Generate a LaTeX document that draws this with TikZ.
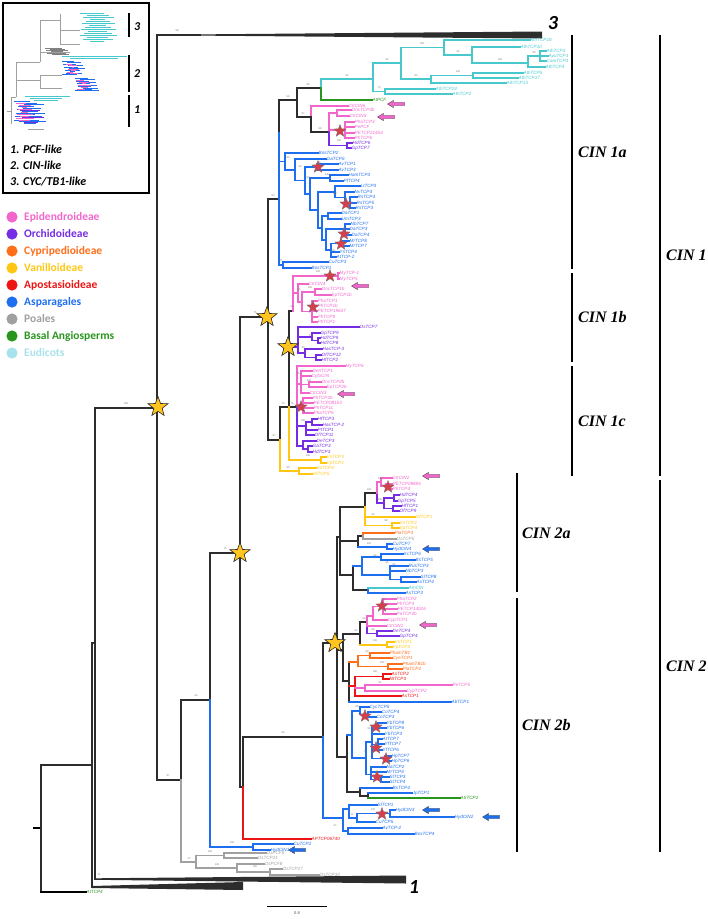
\documentclass[tikz,border=0pt]{standalone}
\usepackage{fontspec}
\setmainfont{Liberation Serif}
\setsansfont{Liberation Sans}
\newfontfamily\legendfont{Carlito}
\usetikzlibrary{shapes.geometric}

\definecolor{cline}{RGB}{45,45,45}
\definecolor{cpink}{RGB}{242,102,204}
\definecolor{cpurple}{RGB}{118,44,228}
\definecolor{corange}{RGB}{255,110,25}
\definecolor{cyellow}{RGB}{255,198,20}
\definecolor{cred}{RGB}{238,20,20}
\definecolor{cblue}{RGB}{30,110,240}
\definecolor{cgray}{RGB}{160,160,160}
\definecolor{cgreen}{RGB}{40,150,30}
\definecolor{ccyan}{RGB}{70,200,205}
\definecolor{clcyan}{RGB}{168,226,236}
\definecolor{cstar}{RGB}{255,196,30}
\definecolor{cstarred}{RGB}{214,62,76}

\newcounter{markn}
% branch helpers
\newcommand{\vb}[4][cline]{\draw[branch,#1] (#2,#3) -- (#2,#4);}
\newcommand{\hb}[4][cline]{\draw[branch,#1] (#2,#4) -- (#3,#4);}
\newcommand{\tipl}[5][cblue]{\node[tiplabel,text=#1] (#5) at (#3,#4) {#5};
  \draw[branch,#1] (#2,#4) -- (#5.west);}
\newcommand{\bsv}[3]{\stepcounter{markn}\node[bootlabel] (bs\arabic{markn}) at (#1,#2) {#3};}
\newcommand{\ystar}[2]{\stepcounter{markn}\node[ystarmark] (ys\arabic{markn}) at (#1,#2) {};}
\newcommand{\rstar}[2]{\stepcounter{markn}\node[rstarmark] (rs\arabic{markn}) at (#1,#2) {};}
\newcommand{\larrow}[3][cpink]{\filldraw[fill=#1,draw=black!75,line width=0.35pt]
  (#2,#3) ++(-8.5,0) -- ++(6,-3.6) -- ++(0,1.9) -- ++(11,0) -- ++(0,3.4)
  -- ++(-11,0) -- ++(0,1.9) -- cycle;}

\begin{document}
\begin{tikzpicture}[x=1pt,y=-1pt,
    branch/.style={line width=1.1pt, line cap=rect},
    tiplabel/.style={anchor=west, inner sep=0.5pt,
      font=\fontsize{4.6}{5}\selectfont\sffamily\itshape},
    bootlabel/.style={inner sep=0pt, text=black!55,
      font=\fontsize{2.6}{3}\selectfont\sffamily},
    ystarmark/.style={star, star points=5, star point ratio=2.4,
      minimum size=21pt, inner sep=0pt, fill=cstar, draw=black!85, line width=0.6pt},
    rstarmark/.style={star, star points=5, star point ratio=2.4,
      minimum size=13pt, inner sep=0pt, fill=cstarred, draw=black!55, line width=0.3pt},
    cinlabel/.style={anchor=west, inner sep=0pt,
      font=\fontsize{16}{16}\selectfont\rmfamily\bfseries\itshape},
    cladenum/.style={inner sep=0pt, font=\fontsize{20}{20}\selectfont\legendfont\bfseries\itshape},
    legtext/.style={anchor=west, inner sep=0pt, font=\fontsize{11.5}{12}\selectfont\legendfont\bfseries},
    insettext/.style={anchor=west, inner sep=0pt, font=\fontsize{12}{12}\selectfont\legendfont\bfseries\itshape},
    bar/.style={line width=1.4pt}
  ]
  \useasboundingbox (0,0) rectangle (708,919);

  % inset overview tree
  \draw[line width=1.2pt] (3,3) rectangle (149,193);
  \draw[cgray,line width=0.4pt] (7,111) -- (11,111) (11,97) -- (11,124) (11,97) -- (16,97)
    (16,62) -- (16,97) (16,62) -- (40,62) (40,20) -- (40,62) (40,52) -- (70,52)
    (40,75) -- (40,88) (16,80) -- (40,80) (40,75) -- (62,75) (40,88) -- (62,88)
    (40,20) -- (60,20) (60,14) -- (60,44) (60,30) -- (80,30) (60,44) -- (80,44);
  \foreach \k in {0,...,14}
    \draw[ccyan,line width=0.35pt] ({80+mod(\k*7,11)},{13+\k*2}) -- ({104+mod(\k*5,14)},{13+\k*2});
  \foreach \k in {0,...,5}
    \draw[cgray!80!black,line width=0.35pt] ({45+mod(\k*5,9)},{48+\k*1.2}) -- ({62+mod(\k*3,8)},{48+\k*1.2});
  \draw[ccyan,line width=0.35pt] (62,56) -- (127,56) (70,58) -- (118,58);
  \foreach \k in {0,...,9}
    \draw[cblue,line width=0.35pt] ({62+mod(\k*5,9)},{61+\k*1.5}) -- ({74+mod(\k*7,12)},{61+\k*1.5});
  \foreach \k in {0,...,6}
    \draw[cpink,line width=0.35pt] ({66+mod(\k*3,7)},{64+\k*1.6}) -- ({72+mod(\k*5,8)},{64+\k*1.6});
  \foreach \k in {0,...,9}
    \draw[cblue,line width=0.35pt] ({75+mod(\k*5,9)},{78+\k*1.4}) -- ({88+mod(\k*7,13)},{78+\k*1.4});
  \foreach \k in {0,...,5}
    \draw[cpink,line width=0.35pt] ({76+mod(\k*3,7)},{80+\k*1.8}) -- ({84+mod(\k*5,8)},{80+\k*1.8});
  \draw[ccyan,line width=0.35pt] (25,96) -- (70,96) (30,98) -- (62,98) (34,100) -- (58,100);
  \foreach \k in {0,...,13}
    \draw[cblue,line width=0.35pt] ({14+mod(\k*5,11)},{101+\k*1.7}) -- ({30+mod(\k*7,17)},{101+\k*1.7});
  \foreach \k in {0,...,8}
    \draw[cpink,line width=0.35pt] ({16+mod(\k*3,7)},{103+\k*2.2}) -- ({26+mod(\k*5,9)},{103+\k*2.2});
  \draw[cpurple,line width=0.35pt] (20,110) -- (40,110) (22,117) -- (44,117) (24,122) -- (38,122);
  \draw[cgray,line width=0.4pt] (28,129) -- (44,129);
  \draw[bar] (129,13) -- (129,37) (129,55) -- (129,92) (129,95) -- (129,127);
  \node[insettext] (in3) at (134,27) {3};
  \node[insettext] (in2) at (134,74) {2};
  \node[insettext] (in1) at (134,110) {1};
  \node[insettext] (pcf) at (10,149) {1. PCF-like};
  \node[insettext] (cin) at (10,165) {2. CIN-like};
  \node[insettext] (cyc) at (10,182) {3. CYC/TB1-like};

  % legend
  \foreach \name/\col/\row in {Epidendroideae/cpink/0, Orchidoideae/cpurple/1,
      Cypripedioideae/corange/2, Vanilloideae/cyellow/3, Apostasioideae/cred/4,
      Asparagales/cblue/5, Poales/cgray/6, Basal Angiosperms/cgreen/7, Eudicots/clcyan/8}{
    \fill[\col] (12,{217+\row*17}) circle (5.6);
    \node[legtext,text=\col] (leg\row) at (24,{217+\row*17}) {\name};
  }

  % backbone
  \draw[branch] (34,828) -- (41,828);
  \vb{41}{765}{892}
  \hb{41}{92}{765}
  \node[tiplabel,text=cgreen] (AtTCP4) at (86,892) {AtTCP4};
  \draw[branch] (41,892) -- (AtTCP4.west);
  \vb{92}{643}{887}
  \hb{92}{95}{643}
  \vb{95}{408}{879}
  \fill[cline] (95,878.3) -- (406,875.5) -- (406,883.5) -- (95,879.8) -- cycle;
  \fill[cline] (92,886) -- (243,882) -- (243,890) -- (92,888) -- cycle;
  \node[cladenum] (clade1) at (414,887) {1};
  \hb{95}{157}{408}
  \vb{157}{35}{780}
  \hb{157}{200}{35}
  \fill[cline] (198,34.4) -- (542,31.5) -- (542,38.5) -- (198,35.6) -- cycle;
  \node[cladenum] (clade3) at (553,23) {3};
  \hb{157}{181}{780}
  \vb{181}{700}{780}

  % Poales
  \vb[cgray]{181}{780}{862}
  \hb[cgray]{181}{196}{862}
  \vb[cgray]{196}{855.5}{868}
  \hb[cgray]{196}{224}{855.5}
  \vb[cgray]{224}{853}{858}
  \tipl[cgray]{224}{266}{853}{OsPCF6}
  \tipl[cgray]{224}{257}{858}{OsTCP21}
  \hb[cgray]{196}{237}{868}
  \vb[cgray]{237}{864}{872}
  \tipl[cgray]{237}{264}{864}{OsPCF8}
  \hb[cgray]{237}{270}{872}
  \vb[cgray]{270}{869}{875}
  \tipl[cgray]{270}{282}{869}{OsTCP27}
  \tipl[cgray]{270}{319}{875}{OsTCP10}

  % Asparagales outgroup
  \hb{181}{210}{700}
  \vb{210}{553}{700}
  \vb[cblue]{210}{700}{847}
  \hb[cblue]{210}{253}{847}
  \vb[cblue]{253}{844}{850}
  \tipl[cblue]{253}{293}{844}{CuTCP2}
  \tipl[cblue]{253}{270}{850}{HydCIN1}
  \hb{210}{240}{553}
  \vb{240}{317}{787}
  \hb{240}{243}{787}
  \vb{243}{737}{787}
  \vb[cred]{243}{787}{839}
  \tipl[cred]{243}{311}{839}{APTCP06740}
  \hb{243}{323}{737}

  % CIN 1
  \hb{240}{268}{317}
  \vb{268}{199}{440}
  \hb{268}{279}{199}
  \vb{279}{100}{133}
  \vb[cblue]{279}{133}{265}
  \hb{279}{297}{100}
  \vb{297}{88}{117}
  \hb{297}{321}{88}
  \vb[ccyan]{321}{79}{88}
  \vb[cgreen]{321}{88}{100}
  \tipl[cgreen]{321}{372}{100}{AtPCF}
  % eudicots
  \hb[ccyan]{321}{373}{79}
  \vb[ccyan]{373}{63}{91.5}
  \hb[ccyan]{373}{401}{63}
  \hb[ccyan]{373}{385}{91.5}
  \vb[ccyan]{385}{89}{94}
  \tipl[ccyan]{385}{435}{89}{AthTCP24}
  \tipl[ccyan]{385}{452}{94}{AthTCP2}
  \vb[ccyan]{401}{47.5}{79}
  \hb[ccyan]{401}{444}{47.5}
  \hb[ccyan]{401}{431}{79}
  \vb[ccyan]{431}{75.5}{83}
  \hb[ccyan]{431}{473}{75.5}
  \vb[ccyan]{473}{73}{78}
  \tipl[ccyan]{473}{523}{73}{AthTCP5}
  \tipl[ccyan]{473}{518}{78}{AthTCP17}
  \tipl[ccyan]{431}{506}{83}{AthTCP13}
  \vb[ccyan]{444}{40}{55}
  \tipl[ccyan]{444}{530}{40}{MtrTCP18}
  \hb[ccyan]{444}{472}{55}
  \vb[ccyan]{472}{47}{63}
  \tipl[ccyan]{472}{520}{47}{AthTCP10}
  \hb[ccyan]{472}{528}{63}
  \vb[ccyan]{528}{56}{67}
  \hb[ccyan]{528}{540}{56}
  \vb[ccyan]{540}{51}{61}
  \tipl[ccyan]{540}{546}{51}{AthTCP3}
  \tipl[ccyan]{540}{548}{56}{AyuTCP3}
  \tipl[ccyan]{540}{546}{61}{CamTCP3}
  \tipl[ccyan]{528}{545}{67}{AthTCP4}
  % CIN 1a orchids
  \hb{297}{311}{117}
  \vb[cpink]{311}{106}{117}
  \vb{311}{117}{132}
  \tipl[cpink]{311}{348}{106}{CtrCIN6}
  \hb{311}{329}{132}
  \vb[cpink]{329}{113}{132}
  \vb[cpurple]{329}{132}{145.5}
  \hb[cpink]{329}{337}{113}
  \vb[cpink]{337}{110}{116}
  \tipl[cpink]{337}{351}{110}{OncTCP3b}
  \tipl[cpink]{337}{349}{116}{CtrCIN5}
  \hb[cpink]{329}{345}{130}
  \vb[cpink]{345}{122}{138}
  \tipl[cpink]{345}{354}{122}{PhaTCP3}
  \tipl[cpink]{345}{354}{127}{PePCF}
  \tipl[cpink]{345}{354}{133}{PETCP21454}
  \tipl[cpink]{345}{354}{138}{PhTCP6}
  \hb[cpurple]{329}{347}{145.5}
  \vb[cpurple]{347}{143}{148}
  \tipl[cpurple]{347}{352}{143}{HdTCP6}
  \tipl[cpurple]{347}{351}{148}{GpTCP7}
  % CIN 1a Asparagales
  \hb[cblue]{279}{285}{161.5}
  \vb[cblue]{285}{153}{170}
  \tipl[cblue]{285}{318}{153}{BosTCP2}
  \hb[cblue]{285}{295}{170}
  \vb[cblue]{295}{159}{180.5}
  \tipl[cblue]{295}{326}{159}{GaTCP6}
  \hb[cblue]{295}{305}{180.5}
  \vb[cblue]{305}{167}{194}
  \hb[cblue]{305}{317}{167}
  \vb[cblue]{317}{164}{170}
  \tipl[cblue]{317}{338}{164}{AvTCP1}
  \tipl[cblue]{317}{338}{170}{AvTCP3}
  \hb[cblue]{305}{310}{194}
  \vb[cblue]{310}{178}{210}
  \hb[cblue]{310}{330}{178}
  \vb[cblue]{330}{175}{181}
  \tipl[cblue]{330}{348}{175}{HamTCP3}
  \tipl[cblue]{330}{343}{181}{PfTCP4}
  \hb[cblue]{310}{318}{210}
  \vb[cblue]{318}{192}{228}
  \hb[cblue]{318}{335}{192}
  \vb[cblue]{335}{186}{197.5}
  \tipl[cblue]{335}{360}{186}{LtTCP3}
  \hb[cblue]{335}{345}{197.5}
  \vb[cblue]{345}{192}{203}
  \tipl[cblue]{345}{354}{192}{NvTCP4}
  \hb[cblue]{345}{350}{203}
  \vb[cblue]{350}{197}{208}
  \tipl[cblue]{350}{357}{197}{RsTCP4}
  \tipl[cblue]{350}{356}{203}{RsTCP5}
  \tipl[cblue]{350}{355}{208}{RsTCP3}
  \hb[cblue]{318}{322}{228}
  \vb[cblue]{322}{216}{240}
  \hb[cblue]{322}{328}{216}
  \vb[cblue]{328}{213}{219}
  \tipl[cblue]{328}{341}{213}{DaTCP1}
  \tipl[cblue]{328}{341}{219}{UmTCP3}
  \hb[cblue]{322}{326}{240}
  \vb[cblue]{326}{229}{250}
  \hb[cblue]{326}{345}{229}
  \vb[cblue]{345}{224}{235}
  \tipl[cblue]{345}{350}{224}{NbTCP7}
  \tipl[cblue]{345}{349}{229}{DaTCP3}
  \tipl[cblue]{345}{351}{235}{DaTCP4}
  \hb[cblue]{326}{331}{250}
  \vb[cblue]{331}{243.5}{257}
  \hb[cblue]{331}{342}{243.5}
  \vb[cblue]{342}{241}{246}
  \tipl[cblue]{342}{349}{241}{MrTCP8}
  \tipl[cblue]{342}{349}{246}{MrTCP7}
  \tipl[cblue]{331}{339}{252}{YsTCP4}
  \tipl[cblue]{331}{336}{257}{AtTCP-2}
  \hb[cblue]{279}{283}{265}
  \vb[cblue]{283}{262}{268}
  \tipl[cblue]{283}{328}{262}{CuTCP3}
  \tipl[cblue]{283}{311}{268}{BosTCP1}
  % CIN 1b
  \vb{289}{311}{407}
  \hb{289}{293}{311}
  \vb[cpink]{293}{276}{311}
  \hb[cpink]{293}{338}{276}
  \vb[cpink]{338}{273}{279}
  \tipl[cpink]{338}{339}{273}{MyTCP-1}
  \tipl[cpink]{338}{339}{279}{MyTCP5}
  \hb[cpink]{293}{298}{293}
  \vb[cpink]{298}{284}{302}
  \tipl[cpink]{298}{308}{284}{CtrCIN4}
  \hb[cpink]{298}{302}{302}
  \vb[cpink]{302}{292}{311.5}
  \hb[cpink]{302}{315}{292}
  \vb[cpink]{315}{289}{295}
  \tipl[cpink]{315}{321}{289}{OncTCP1b}
  \tipl[cpink]{315}{331}{295}{EpTCP1b}
  \hb[cpink]{302}{312}{311.5}
  \vb[cpink]{312}{301}{322}
  \tipl[cpink]{312}{317}{301}{PhaTCP1}
  \tipl[cpink]{312}{317}{306}{PhTCP1b}
  \tipl[cpink]{312}{317}{311}{PETCP19647}
  \tipl[cpink]{312}{317}{317}{PhTCP9}
  \tipl[cpink]{312}{317}{322}{PhTCP1}
  \hb[cpurple]{289}{298}{347}
  \vb[cpurple]{298}{327}{353}
  \tipl[cpurple]{298}{359}{327}{OsTCP7}
  \hb[cpurple]{298}{312}{337}
  \vb[cpurple]{312}{333}{340.5}
  \tipl[cpurple]{312}{320}{333}{GpTCP9}
  \hb[cpurple]{312}{318}{340.5}
  \vb[cpurple]{318}{338}{343}
  \tipl[cpurple]{318}{320}{338}{HdTCP9}
  \tipl[cpurple]{318}{320}{343}{HdTCP8}
  \hb[cpurple]{298}{305}{353}
  \vb[cpurple]{305}{349}{357.5}
  \tipl[cpurple]{305}{322}{349}{HasTCP-3}
  \hb[cpurple]{305}{316}{357.5}
  \vb[cpurple]{316}{355}{360}
  \tipl[cpurple]{316}{321}{355}{OfTCP12}
  \tipl[cpurple]{316}{321}{360}{HfTCP2}
  % CIN 1c
  \hb{280}{297}{407}
  \vb[cpink]{297}{366}{407}
  \vb[cpurple]{297}{407}{446}
  \tipl[cpink]{297}{345}{366}{MyTCP6}
  \hb[cpink]{297}{301}{384}
  \vb[cpink]{301}{371}{393}
  \tipl[cpink]{301}{312}{371}{DenTCP1}
  \tipl[cpink]{301}{311}{376}{CyfoCIN}
  \hb[cpink]{301}{309}{384.5}
  \vb[cpink]{309}{382}{387}
  \tipl[cpink]{309}{321}{382}{OncTCP2b}
  \tipl[cpink]{309}{326}{387}{EpTCP2b}
  \tipl[cpink]{301}{309}{393}{CtrCIN3}
  \hb[cpink]{297}{303}{405}
  \vb[cpink]{303}{398}{413}
  \tipl[cpink]{303}{312}{398}{PhTCP2b}
  \tipl[cpink]{303}{313}{403}{PETCP08153}
  \tipl[cpink]{303}{313}{408}{PhTCP1c}
  \tipl[cpink]{303}{313}{413}{PhaTCP5}
  \hb[cpurple]{297}{306}{426}
  \vb[cpurple]{306}{422}{435}
  \hb[cpurple]{306}{312}{422}
  \vb[cpurple]{312}{419}{425}
  \tipl[cpurple]{312}{317}{419}{HfTCP3}
  \tipl[cpurple]{312}{322}{425}{HasTCP-2}
  \tipl[cpurple]{306}{317}{430}{PtTCP1}
  \tipl[cpurple]{306}{314}{435}{OfTCP11}
  \hb[cpurple]{297}{303}{446}
  \vb[cpurple]{303}{441}{449}
  \tipl[cpurple]{303}{316}{441}{DeTCP3}
  \hb[cpurple]{303}{308}{449}
  \vb[cpurple]{308}{446}{452}
  \tipl[cpurple]{308}{312}{446}{GaTCP3}
  \tipl[cpurple]{308}{312}{452}{HdTCP3}
  \vb[cyellow]{289}{407}{460}
  \hb[cyellow]{289}{321}{460}
  \vb[cyellow]{321}{457}{463}
  \tipl[cyellow]{321}{326}{457}{VsTCP3}
  \tipl[cyellow]{321}{326}{463}{VpTCP1}
  \hb{268}{280}{440}
  \vb{280}{407}{440}
  \vb[cyellow]{280}{440}{471}
  \hb[cyellow]{280}{299}{471}
  \vb[cyellow]{299}{468}{474}
  \tipl[cyellow]{299}{316}{468}{VsTCP4}
  \tipl[cyellow]{299}{312}{474}{GfTCP5}

  % CIN 2
  \vb{323}{643}{737}
  \vb[cblue]{323}{737}{818}
  \hb{323}{337}{643}
  \vb{337}{537}{757}
  % CIN 2a
  \hb{337}{340}{537}
  \vb{340}{507}{575}
  \hb{340}{365}{507}
  \vb{365}{493}{507}
  \vb[cyellow]{365}{507}{525.5}
  \hb{365}{377}{493}
  \vb[cpink]{377}{482}{495}
  \vb[cpurple]{377}{495}{503}
  \hb[cpink]{377}{381}{482}
  \vb[cpink]{381}{478}{486.5}
  \tipl[cpink]{381}{392}{478}{CtrCIN2}
  \hb[cpink]{381}{386}{486.5}
  \vb[cpink]{386}{484}{489}
  \tipl[cpink]{386}{392}{484}{PETCP09896}
  \tipl[cpink]{386}{392}{489}{PhTCP4}
  \hb[cpurple]{377}{384}{503}
  \vb[cpurple]{384}{498}{508.5}
  \hb[cpurple]{384}{394}{498}
  \vb[cpurple]{394}{495}{501}
  \tipl[cpurple]{394}{399}{495}{HdTCP4}
  \tipl[cpurple]{394}{397}{501}{GpTCP5}
  \hb[cpurple]{384}{393}{508.5}
  \vb[cpurple]{393}{506}{511}
  \tipl[cpurple]{393}{401}{506}{HfTCP1}
  \tipl[cpurple]{393}{399}{511}{OfTCP9}
  \tipl[cyellow]{365}{415}{517}{GfTCP1}
  \hb[cyellow]{365}{392}{525.5}
  \vb[cyellow]{392}{523}{528}
  \tipl[cyellow]{392}{399}{523}{VsTCP2}
  \tipl[cyellow]{392}{399}{528}{VpTCP4}
  \hb{340}{358}{541}
  \vb{358}{536}{547}
  \hb{358}{363}{536}
  \vb[corange]{363}{533}{536}
  \vb[cgray]{363}{536}{539}
  \tipl[corange]{363}{394}{533}{PlaTCP3}
  \tipl[cgray]{363}{396}{539}{OsTCP5}
  \hb[cblue]{358}{387}{547}
  \vb[cblue]{387}{544}{549}
  \tipl[cblue]{387}{392}{544}{CuTCP7}
  \tipl[cblue]{387}{392}{549}{HydCIN4}
  \hb{340}{353}{575}
  \vb{353}{566}{590}
  \hb[cblue]{353}{362}{566}
  \vb[cblue]{362}{557}{575}
  \hb[cblue]{362}{381}{557}
  \vb[cblue]{381}{554}{560}
  \tipl[cblue]{381}{403}{554}{XcTCP6}
  \tipl[cblue]{381}{415}{560}{BsTCP5}
  \hb[cblue]{362}{390}{575}
  \vb[cblue]{390}{566}{579.5}
  \tipl[cblue]{390}{408}{566}{RusTCP3}
  \tipl[cblue]{390}{405}{571}{NbTCP3}
  \hb[cblue]{390}{401}{579.5}
  \vb[cblue]{401}{577}{582}
  \tipl[cblue]{401}{420}{577}{SlTCP8}
  \tipl[cblue]{401}{416}{582}{AsTCP4}
  \hb{353}{368}{590}
  \vb[ccyan]{368}{588}{590}
  \vb[cblue]{368}{590}{593}
  \tipl[ccyan]{368}{408}{588}{AmCIN}
  \tipl[cblue]{368}{405}{593}{AsTCP3}
  % CIN 2b orchids
  \hb{337}{343}{650}
  \vb{343}{634}{681}
  \hb{343}{360}{634}
  \vb{360}{622}{645}
  \hb{360}{367}{622}
  \vb[cpink]{367}{616}{626}
  \vb[cpurple]{367}{626}{633.5}
  \hb[cpink]{367}{373}{616}
  \vb[cpink]{373}{606.5}{620}
  \hb[cpink]{373}{383}{606.5}
  \vb[cpink]{383}{599}{614}
  \tipl[cpink]{383}{396}{599}{PhaTCP2}
  \tipl[cpink]{383}{396}{604}{PhTCP3}
  \tipl[cpink]{383}{397}{609}{PETCP14026}
  \tipl[cpink]{383}{396}{614}{PaTCP2b}
  \tipl[cpink]{373}{387}{620}{CypTCP1}
  \tipl[cpink]{367}{386}{626}{CtrCIN1}
  \hb[cpurple]{367}{377}{633.5}
  \vb[cpurple]{377}{631}{636}
  \tipl[cpurple]{377}{392}{631}{DeTCP4}
  \tipl[cpurple]{377}{399}{636}{GpTCP4}
  \hb[cyellow]{360}{387}{645}
  \vb[cyellow]{387}{642}{647}
  \tipl[cyellow]{387}{394}{642}{VsTCP1}
  \tipl[cyellow]{387}{392}{647}{VpTCP2}
  \hb{343}{349}{681}
  \vb{349}{662}{702}
  \hb[corange]{349}{358}{662}
  \vb[corange]{358}{655.5}{666.5}
  \hb[corange]{358}{370}{655.5}
  \vb[corange]{370}{653}{658}
  \tipl[corange]{370}{389}{653}{PhamTB1}
  \tipl[corange]{370}{392}{658}{CyeTCP1}
  \hb[corange]{358}{388}{666.5}
  \vb[corange]{388}{664}{669}
  \tipl[corange]{388}{402}{664}{PhamTB1b}
  \tipl[corange]{388}{402}{669}{PlaTCP2}
  \hb[cred]{349}{355}{686}
  \vb[cred]{355}{676.5}{696}
  \hb[cred]{355}{383}{676.5}
  \vb[cred]{383}{674}{679}
  \tipl[cred]{383}{391}{674}{AsTCP2}
  \tipl[cred]{383}{389}{679}{NtTCP3}
  \hb[cpink]{355}{365}{688}
  \vb[cpink]{365}{685}{691}
  \tipl[cpink]{365}{452}{685}{PeTCP5}
  \tipl[cpink]{365}{406}{691}{CypTCP2}
  \tipl[cred]{355}{401}{696}{AsTCP1}
  \tipl[cblue]{349}{451}{702}{AbTCP1}
  % CIN 2b Asparagales
  \hb{337}{347}{757}
  \vb{347}{735}{792}
  \hb[cblue]{347}{352}{735}
  \vb[cblue]{352}{711}{758}
  \hb[cblue]{352}{360}{711}
  \vb[cblue]{360}{707}{714.5}
  \tipl[cblue]{360}{369}{707}{CycTCP5}
  \hb[cblue]{360}{368}{714.5}
  \vb[cblue]{368}{712}{717}
  \tipl[cblue]{368}{381}{712}{CoTCP4}
  \tipl[cblue]{368}{376}{717}{CoTCP3}
  \hb[cblue]{352}{366}{758}
  \vb[cblue]{366}{742}{774.5}
  \hb[cblue]{366}{372}{742}
  \vb[cblue]{372}{725.5}{758.5}
  \hb[cblue]{372}{378}{725.5}
  \vb[cblue]{378}{723}{728}
  \tipl[cblue]{378}{386}{723}{YbTCP8}
  \tipl[cblue]{378}{386}{728}{YbTCP6}
  \tipl[cblue]{372}{384}{734}{YbTCP3}
  \hb[cblue]{372}{378}{744.5}
  \vb[cblue]{378}{739}{750}
  \tipl[cblue]{378}{382}{739}{AtTCP7}
  \tipl[cblue]{378}{384}{744}{YfTCP7}
  \tipl[cblue]{378}{382}{750}{YfTCP6}
  \hb[cblue]{372}{385}{758.5}
  \vb[cblue]{385}{756}{761}
  \tipl[cblue]{385}{391}{756}{HpTCP7}
  \tipl[cblue]{385}{391}{761}{HpTCP6}
  \hb[cblue]{366}{371}{774.5}
  \vb[cblue]{371}{767}{779.5}
  \tipl[cblue]{371}{386}{767}{NaTCP2}
  \tipl[cblue]{371}{386}{772}{MrTCP6}
  \hb[cblue]{371}{381}{779.5}
  \vb[cblue]{381}{777}{782}
  \tipl[cblue]{381}{389}{777}{SlTCP3}
  \tipl[cblue]{381}{389}{782}{SlTCP4}
  \hb{347}{360}{792}
  \vb{360}{788}{796}
  \tipl[cblue]{360}{392}{788}{BsTCP4}
  \hb{360}{368}{796}
  \vb{368}{793}{798}
  \tipl[cblue]{368}{412}{793}{JpTCP1}
  \tipl[cgreen]{368}{460}{798}{AtrTCP2}
  \hb[cblue]{323}{343}{818}
  \vb[cblue]{343}{809}{831}
  \hb[cblue]{343}{349}{809}
  \vb[cblue]{349}{805}{818}
  \tipl[cblue]{349}{377}{805}{SlTCP1}
  \hb[cblue]{349}{357}{818}
  \vb[cblue]{357}{813.5}{822}
  \hb[cblue]{357}{390}{813.5}
  \vb[cblue]{390}{810}{817}
  \tipl[cblue]{390}{395}{810}{HydCIN3}
  \tipl[cblue]{390}{454}{817}{HydCIN2}
  \tipl[cblue]{357}{375}{822}{CuTCP5}
  \hb[cblue]{343}{348}{831}
  \vb[cblue]{348}{828}{834}
  \tipl[cblue]{348}{382}{828}{AvTCP-2}
  \tipl[cblue]{348}{414}{834}{BosTCP4}

  % support values
  \bsv{177}{31}{98} \bsv{126}{404}{100} \bsv{99}{875}{11} \bsv{168}{776}{97}
  \bsv{196}{696}{63} \bsv{225}{549}{75} \bsv{283}{733}{99} \bsv{255}{313}{75}
  \bsv{274}{436}{97} \bsv{273}{196}{63} \bsv{288}{97}{59} \bsv{308}{85}{86}
  \bsv{303}{114}{97} \bsv{320}{129}{98} \bsv{347}{76}{90} \bsv{387}{60}{94}
  \bsv{379}{88}{75} \bsv{422}{44}{100} \bsv{416}{76}{93} \bsv{458}{72}{100}
  \bsv{458}{52}{96} \bsv{500}{60}{100} \bsv{534}{53}{95} \bsv{339}{141}{100}
  \bsv{288}{158}{83} \bsv{300}{167}{94} \bsv{319}{163}{98} \bsv{308}{178}{97}
  \bsv{327}{175}{100} \bsv{335}{194}{100} \bsv{333}{251}{100} \bsv{281}{261}{71}
  \bsv{318}{272}{100} \bsv{299}{290}{95} \bsv{310}{288}{100} \bsv{292}{307}{90}
  \bsv{311}{336}{100} \bsv{303}{348}{90} \bsv{298}{374}{75} \bsv{309}{381}{100}
  \bsv{303}{421}{100} \bsv{283}{404}{75} \bsv{292}{404}{75} \bsv{308}{456}{100}
  \bsv{288}{468}{90} \bsv{369}{490}{100} \bsv{380}{479}{100} \bsv{380}{500}{100}
  \bsv{373}{515}{92} \bsv{386}{521}{98} \bsv{369}{544}{100} \bsv{375}{556}{94}
  \bsv{387}{563}{95} \bsv{394}{565}{80} \bsv{383}{600}{100} \bsv{364}{619}{90}
  \bsv{356}{631}{61} \bsv{373}{630}{80} \bsv{375}{641}{100} \bsv{367}{652}{90}
  \bsv{382}{663}{100} \bsv{375}{672}{100} \bsv{380}{683}{91} \bsv{357}{707}{100}
  \bsv{369}{729}{90} \bsv{365}{752}{72} \bsv{352}{815}{11} \bsv{373}{810}{100}
  \bsv{335}{826}{47} \bsv{232}{843}{100} \bsv{189}{859}{47} \bsv{210}{852}{100}
  \bsv{217}{865}{100} \bsv{255}{867}{100}

  % marked duplications
  \ystar{158}{407} \ystar{240}{553} \ystar{267}{317} \ystar{288}{347} \ystar{335}{643}
  \rstar{340}{131} \rstar{318}{167} \rstar{346}{204} \rstar{344}{234} \rstar{341}{244}
  \rstar{330}{276} \rstar{313}{307} \rstar{301}{407} \rstar{388}{487} \rstar{382}{606}
  \rstar{365}{716} \rstar{376}{727} \rstar{376}{748} \rstar{386}{759} \rstar{377}{777}
  \rstar{382}{814}

  % CIN gene arrows
  \larrow{396}{104} \larrow{386}{117} \larrow{360}{286} \larrow{346}{394}
  \larrow{431}{476} \larrow{428}{625}
  \larrow[cblue]{431}{549} \larrow[cblue]{431}{810} \larrow[cblue]{491}{817}
  \larrow[cblue]{297}{850}

  % clade bars
  \draw[bar] (572,35) -- (572,269);
  \draw[bar] (572,273) -- (572,362);
  \draw[bar] (572,366) -- (572,476);
  \draw[bar] (660,35) -- (660,476);
  \draw[bar] (517,473) -- (517,592);
  \draw[bar] (517,598) -- (517,852);
  \draw[bar] (660,480) -- (660,852);
  \node[cinlabel] (cin1a) at (578,152) {CIN 1a};
  \node[cinlabel] (cin1b) at (578,317) {CIN 1b};
  \node[cinlabel] (cin1c) at (578,421) {CIN 1c};
  \node[cinlabel] (cin1) at (666,255) {CIN 1};
  \node[cinlabel] (cin2a) at (522,533) {CIN 2a};
  \node[cinlabel] (cin2b) at (522,725) {CIN 2b};
  \node[cinlabel] (cin2) at (666,666) {CIN 2};

  % scale
  \draw[line width=0.6pt] (267,906) coordinate (sc0) -- (327,906) coordinate (sc1);
  \node[bootlabel,font=\fontsize{4}{4}\selectfont\sffamily,text=black!70] (sclab) at (297,913) {0.8};
\end{tikzpicture}
\end{document}
